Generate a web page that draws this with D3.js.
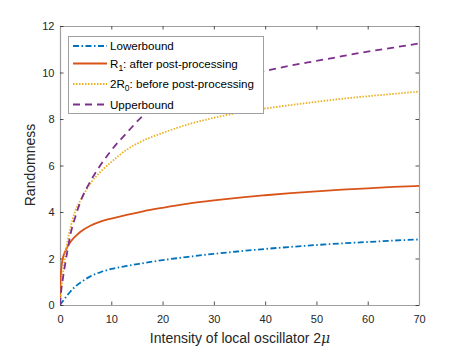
<!DOCTYPE html>
<html>
<head>
<meta charset="utf-8">
<script src="https://cdn.jsdelivr.net/npm/d3@7"></script>
<style>
  body { margin: 0; background: #fff; }
  text { font-family: "Liberation Sans", Arial, sans-serif; }
</style>
</head>
<body>
<div id="chart"></div>
<script>
// intensity of local oscillator 2mu
var xs = [0, 0.1, 0.25, 0.5, 1, 1.5, 2, 3, 4, 6, 8, 10, 13, 16, 20, 25, 30, 35, 40, 45, 50, 55, 60, 65, 70];
var lowerbound = [0, 0.03, 0.08, 0.15, 0.3, 0.44, 0.57, 0.8, 0.97, 1.24, 1.42, 1.55, 1.68, 1.79, 1.93, 2.07, 2.2, 2.31, 2.41, 2.5, 2.58, 2.65, 2.71, 2.77, 2.82];
var r1 = [0, 1.0, 1.55, 1.95, 2.3, 2.52, 2.7, 2.95, 3.15, 3.42, 3.6, 3.72, 3.88, 4.02, 4.18, 4.36, 4.5, 4.62, 4.72, 4.81, 4.89, 4.96, 5.02, 5.08, 5.12];
var r0x2 = [0, 0.35, 0.7, 1.2, 2.1, 2.8, 3.3, 4.05, 4.5, 5.25, 5.75, 6.15, 6.68, 7.05, 7.4, 7.77, 8.05, 8.28, 8.45, 8.6, 8.74, 8.87, 8.98, 9.08, 9.18];
var upperbound = [0, 0.3, 0.65, 1.05, 1.75, 2.4, 3.0, 3.8, 4.45, 5.35, 6.05, 6.65, 7.4, 8.1, 8.7, 9.2, 9.55, 9.83, 10.07, 10.3, 10.5, 10.7, 10.9, 11.07, 11.25];

var xTicks = [0, 10, 20, 30, 40, 50, 60, 70];
var yTicks = [0, 2, 4, 6, 8, 10, 12];

var series = [
  {name: "Lowerbound", values: lowerbound, color: "#0072BD", dash: "6,2.5,1.5,2.5"},
  {name: "R1", values: r1, color: "#D95319", dash: null},
  {name: "2R0", values: r0x2, color: "#EDB120", dash: "1.5,1.5"},
  {name: "Upperbound", values: upperbound, color: "#7E2F8E", dash: "7,5"}
];

var W = 463, H = 348;
var margin = {left: 60, right: 44, top: 26, bottom: 43};
var width = W - margin.left - margin.right;
var height = H - margin.top - margin.bottom;

var svg = d3.select("#chart").append("svg")
    .attr("width", W)
    .attr("height", H);

var g = svg.append("g")
    .attr("transform", "translate(" + margin.left + "," + margin.top + ")");

var x = d3.scaleLinear().domain([0, 70]).range([0, width]);
var y = d3.scaleLinear().domain([0, 12]).range([height, 0]);

var axisColor = "#262626";

// axes, ticks inside, box on
g.append("g")
    .attr("transform", "translate(0," + height + ")")
    .call(d3.axisBottom(x).tickValues(xTicks).tickSizeInner(-3.5).tickSizeOuter(0).tickPadding(10));
g.append("g")
    .call(d3.axisTop(x).tickValues(xTicks).tickSizeInner(-3.5).tickSizeOuter(0).tickFormat(""));
g.append("g")
    .call(d3.axisLeft(y).tickValues(yTicks).tickSizeInner(-3.5).tickSizeOuter(0).tickPadding(5.5));
g.append("g")
    .attr("transform", "translate(" + width + ",0)")
    .call(d3.axisRight(y).tickValues(yTicks).tickSizeInner(-3.5).tickSizeOuter(0).tickFormat(""));

g.selectAll(".domain").attr("stroke", "#a0a0a0").attr("stroke-width", 1.2);
g.selectAll(".tick line").attr("stroke", axisColor).attr("stroke-width", 0.8);
g.selectAll(".tick text")
    .attr("fill", axisColor)
    .attr("font-size", 11)
    .attr("font-family", "Liberation Sans, Arial, sans-serif");

g.append("defs").append("clipPath").attr("id", "clip")
    .append("rect").attr("width", width).attr("height", height);

var line = d3.line()
    .x(function(d, i) { return x(xs[i]); })
    .y(function(d) { return y(d); })
    .curve(d3.curveMonotoneX);

g.append("g").attr("clip-path", "url(#clip)")
    .selectAll("path")
    .data(series)
    .enter()
    .append("path")
    .attr("d", function(d) { return line(d.values); })
    .attr("fill", "none")
    .attr("stroke", function(d) { return d.color; })
    .attr("stroke-width", 1.8)
    .attr("stroke-dasharray", function(d) { return d.dash; });

// axis labels
svg.append("text")
    .attr("x", 240)
    .attr("y", 343)
    .attr("text-anchor", "middle")
    .attr("font-size", 14)
    .attr("fill", axisColor)
    .html('Intensity of local oscillator 2<tspan font-style="italic" font-family="DejaVu Serif">\u03bc</tspan>');

svg.append("text")
    .attr("transform", "translate(35,165) rotate(-90)")
    .attr("text-anchor", "middle")
    .attr("font-size", 14)
    .attr("fill", axisColor)
    .text("Randomness");

// legend
var lg = svg.append("g");
lg.append("rect")
    .attr("x", 68.5).attr("y", 36.5)
    .attr("width", 195).attr("height", 77)
    .attr("fill", "#fff")
    .attr("stroke", "#a0a0a0")
    .attr("stroke-width", 1);

var rowY = [46, 63.5, 84, 104.5];
var labels = [
  'Lowerbound',
  'R<tspan font-size="8.5" dy="3">1</tspan><tspan dy="-3">: after post-processing</tspan>',
  '2R<tspan font-size="8.5" dy="3">0</tspan><tspan dy="-3">: before post-processing</tspan>',
  'Upperbound'
];

series.forEach(function(s, i) {
  lg.append("line")
      .attr("x1", 73).attr("x2", 107)
      .attr("y1", rowY[i]).attr("y2", rowY[i])
      .attr("stroke", s.color)
      .attr("stroke-width", 1.8)
      .attr("stroke-dasharray", s.dash);
  lg.append("text")
      .attr("x", 110)
      .attr("y", rowY[i] + 4)
      .attr("font-size", 11.6)
      .attr("fill", "#000")
      .html(labels[i]);
});
</script>
</body>
</html>
